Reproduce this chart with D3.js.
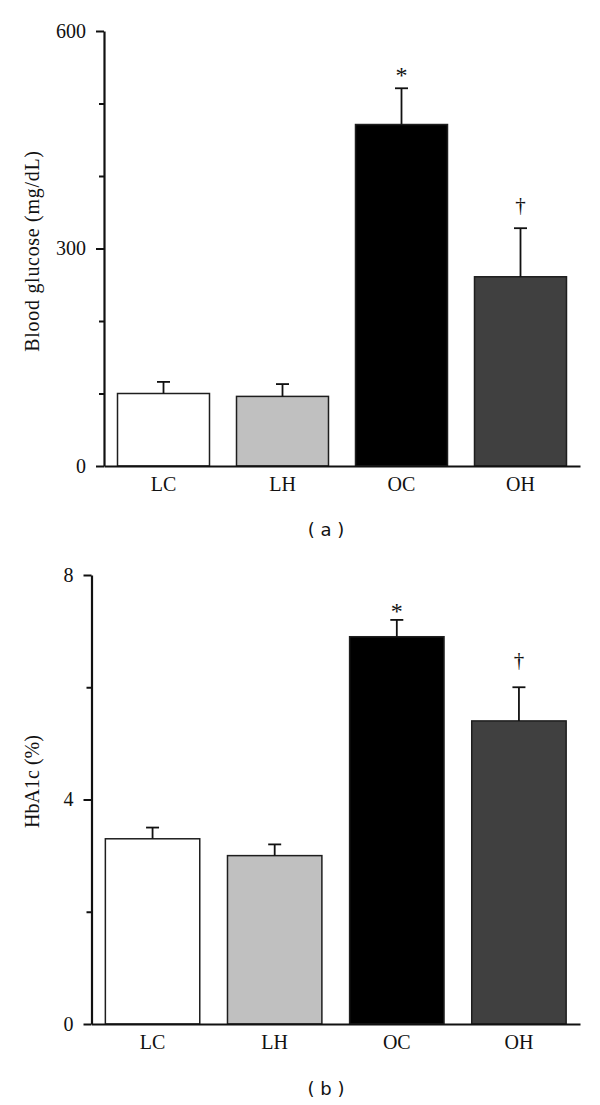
<!DOCTYPE html>
<html>
<head>
<meta charset="utf-8">
<script src="https://cdn.jsdelivr.net/npm/d3@7"></script>
<style>
  html, body { margin: 0; padding: 0; background: #fff; }
  svg { display: block; }
</style>
</head>
<body>
<svg id="chart" width="600" height="1105"></svg>
<script>
// ---------- Data ----------
const categories = ["LC", "LH", "OC", "OH"];
const glucoseMean = [100, 96, 471, 261];
const glucoseSem  = [16, 17, 50, 67];
const hba1cMean   = [3.3, 3.0, 6.9, 5.4];
const hba1cSem    = [0.2, 0.2, 0.3, 0.6];
const significance = ["", "", "*", "\u2020"];
const glucoseTicksMajor = [0, 300, 600];
const glucoseTicksMinor = [100, 200, 400, 500];
const hba1cTicksMajor = [0, 4, 8];
const hba1cTicksMinor = [2, 6];
const barColors = ["#ffffff", "#c0c0c0", "#000000", "#404040"];

// ---------- Layout ----------
const svg = d3.select("#chart");
const serif = "'Liberation Serif', 'Times New Roman', serif";

const panels = [
  {
    mean: glucoseMean, sem: glucoseSem, domain: [0, 600],
    major: glucoseTicksMajor, minor: glucoseTicksMinor,
    xRange: [104, 580], yRange: [466, 31],
    title: "Blood glucose (mg/dL)", titleX: 38.5, titleY: 251, titleSpacing: 0.7,
    caption: "( a )", captionY: 536,
    starOff: 5, daggerOff: 16
  },
  {
    mean: hba1cMean, sem: hba1cSem, domain: [0, 8],
    major: hba1cTicksMajor, minor: hba1cTicksMinor,
    xRange: [91.5, 580], yRange: [1024, 575],
    title: "HbA1c (%)", titleX: 39, titleY: 781.5, titleSpacing: 0,
    caption: "( b )", captionY: 1095,
    starOff: 1, daggerOff: 20
  }
];

panels.forEach(p => {
  const g = svg.append("g");
  const x = d3.scaleBand().domain(categories).range(p.xRange)
    .paddingInner(0.227).paddingOuter(0.1135);
  const y = d3.scaleLinear().domain(p.domain).range(p.yRange);

  // bars
  g.selectAll("rect.bar").data(categories).join("rect")
    .attr("class", "bar")
    .attr("x", d => x(d))
    .attr("width", x.bandwidth())
    .attr("y", (d, i) => y(p.mean[i]))
    .attr("height", (d, i) => y(0) - y(p.mean[i]))
    .attr("fill", (d, i) => barColors[i])
    .attr("stroke", "#1e1e1e")
    .attr("stroke-width", 1.5);

  // error bars (upper only)
  const cap = 6.5;
  categories.forEach((c, i) => {
    const cx = x(c) + x.bandwidth() / 2;
    const top = y(p.mean[i] + p.sem[i]);
    g.append("line").attr("x1", cx).attr("x2", cx)
      .attr("y1", y(p.mean[i])).attr("y2", top)
      .attr("stroke", "#111").attr("stroke-width", 1.8);
    g.append("line").attr("x1", cx - cap).attr("x2", cx + cap)
      .attr("y1", top).attr("y2", top)
      .attr("stroke", "#111").attr("stroke-width", 1.8);
    if (significance[i]) {
      const isStar = significance[i] === "*";
      g.append("text")
        .attr("x", cx)
        .attr("y", top - (isStar ? p.starOff : p.daggerOff))
        .attr("text-anchor", "middle")
        .attr("font-family", serif)
        .attr("font-size", isStar ? 24 : 21)
        .attr("fill", "#111")
        .text(significance[i]);
    }
  });

  // y axis minor ticks
  const yMinor = g.append("g").attr("transform", `translate(${p.xRange[0]},0)`)
    .call(d3.axisLeft(y).tickValues(p.minor).tickSize(5).tickFormat(""));
  yMinor.select(".domain").remove();
  // y axis major
  const yMajor = g.append("g").attr("transform", `translate(${p.xRange[0]},0)`)
    .call(d3.axisLeft(y).tickValues(p.major).tickSize(8).tickSizeOuter(0).tickPadding(10));
  [yMinor, yMajor].forEach(a => {
    a.selectAll("line").attr("stroke", "#111").attr("stroke-width", 2);
    a.selectAll(".domain").attr("stroke", "#111").attr("stroke-width", 2.2);
    a.selectAll("text").attr("font-family", serif).attr("font-size", 20).attr("fill", "#111");
  });

  // x axis
  const xAxis = g.append("g").attr("transform", `translate(0,${p.yRange[0]})`)
    .call(d3.axisBottom(x).tickSize(0).tickSizeOuter(0).tickPadding(11));
  xAxis.select(".domain").attr("stroke", "#111").attr("stroke-width", 2);
  xAxis.selectAll("text").attr("font-family", serif).attr("font-size", 20).attr("fill", "#111");

  // y title
  g.append("text")
    .attr("transform", `translate(${p.titleX},${p.titleY}) rotate(-90)`)
    .attr("text-anchor", "middle")
    .attr("font-family", serif)
    .attr("font-size", 20)
    .attr("letter-spacing", p.titleSpacing)
    .attr("fill", "#111")
    .text(p.title);

  // caption
  g.append("text")
    .attr("x", 326).attr("y", p.captionY)
    .attr("text-anchor", "middle")
    .attr("font-family", "'DejaVu Sans', Verdana, sans-serif")
    .attr("font-size", 18)
    .attr("fill", "#111")
    .text(p.caption);
});
</script>
</body>
</html>
